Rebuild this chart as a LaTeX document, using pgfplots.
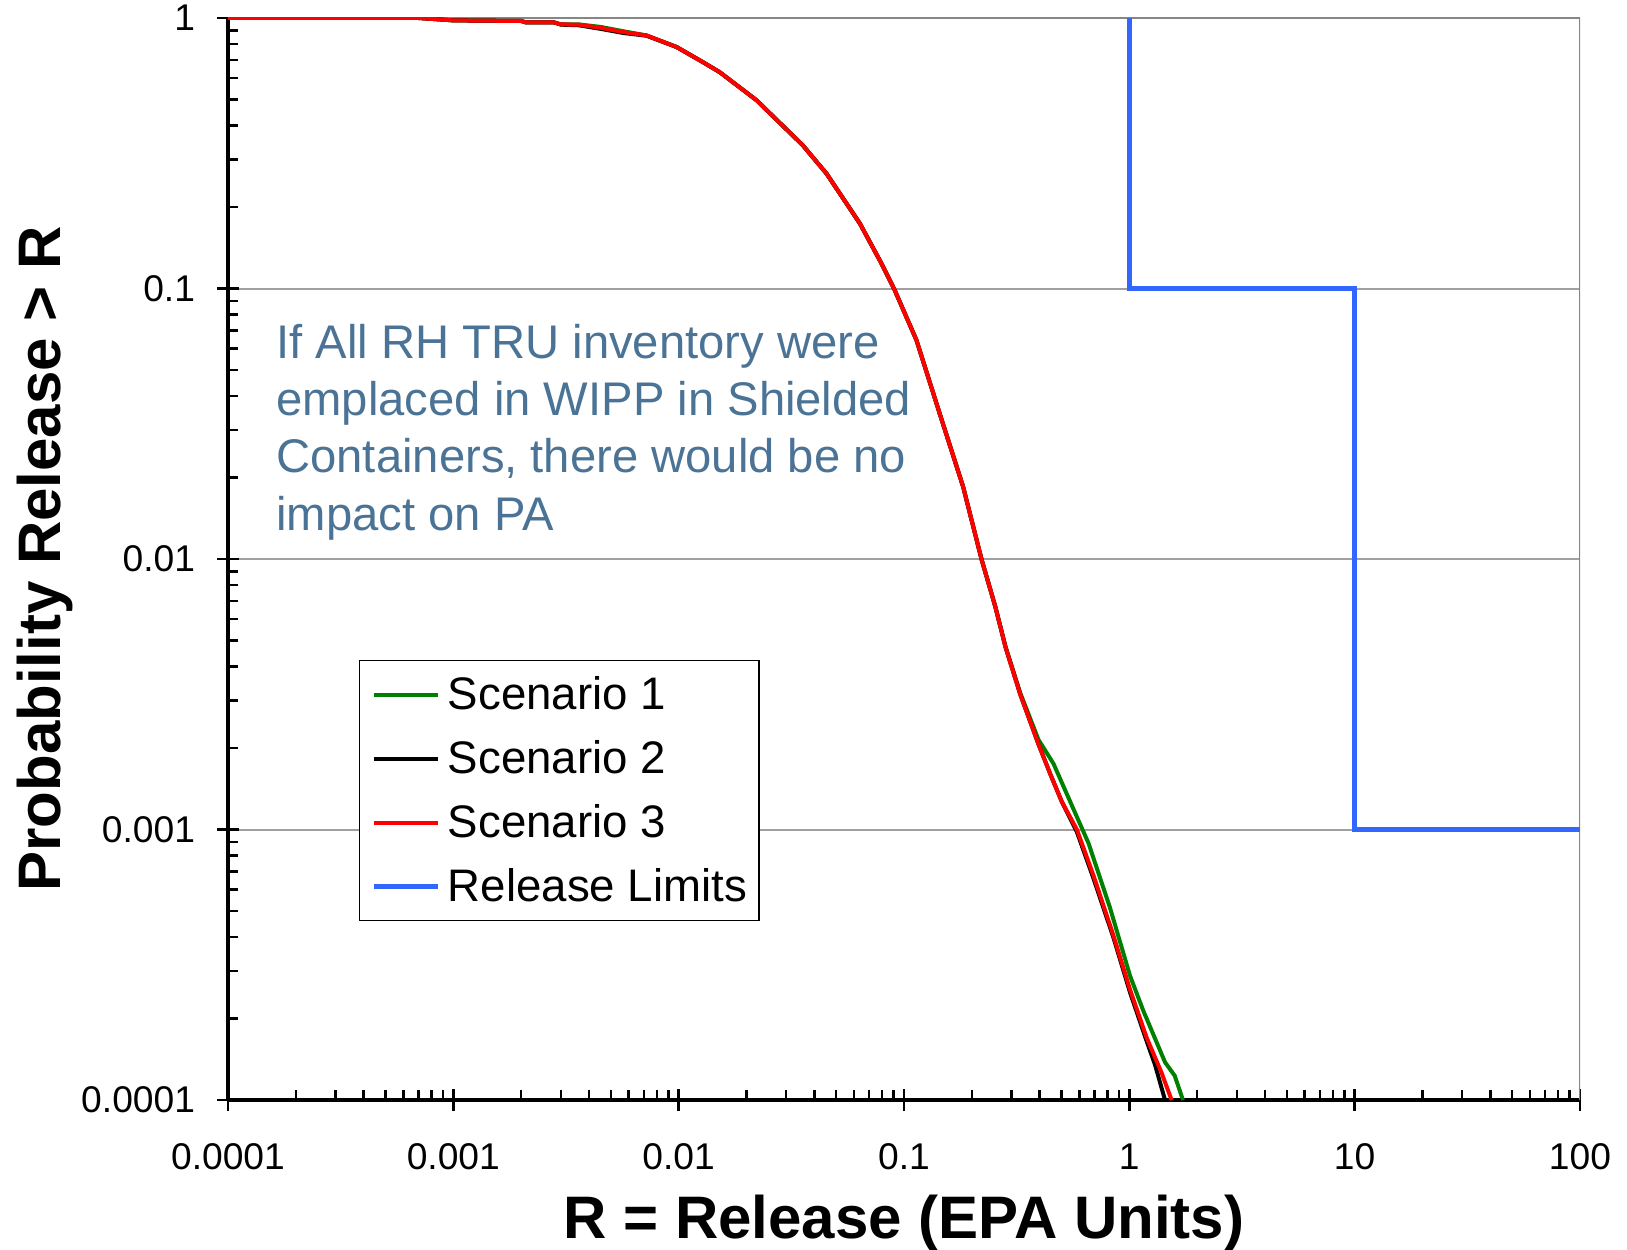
\documentclass[border=0pt]{standalone}
\usepackage{fontspec}
\setmainfont{Liberation Sans}
\usepackage{pgfplots}
\pgfplotsset{compat=1.18}
\definecolor{scone}{RGB}{0,128,0}
\definecolor{limblue}{RGB}{51,102,255}
\definecolor{notecol}{RGB}{74,115,150}
\definecolor{gridcol}{RGB}{160,160,160}
\definecolor{framecol}{RGB}{134,134,134}
\begin{document}
\begin{tikzpicture}
\begin{loglogaxis}[
  name=ax, at={(0,0)}, anchor=south west,
  width=676pt, height=541pt, scale only axis,
  xmin=1e-4, xmax=100, ymin=1e-4, ymax=1,
  axis lines*=left,
  axis line style={-, black, line width=2.25pt},
  xtick={1e-4,1e-3,1e-2,1e-1,1,10,100},
  xticklabels={0.0001,0.001,0.01,0.1,1,10,100},
  ytick={1e-4,1e-3,1e-2,1e-1,1},
  yticklabels={0.0001,0.001,0.01,0.1,1},
  tick align=center,
  major tick length=11pt,
  minor tick length=5pt,
  every tick/.style={black, line width=1.25pt},
  minor x tick style={yshift=2.5pt},
  minor y tick style={xshift=2.5pt},
  ymajorgrids,
  major grid style={gridcol, line width=1pt},
  tick label style={font=\fontsize{18.6}{22}\selectfont},
  xticklabel style={anchor=base, inner sep=0pt, yshift=-29pt},
  yticklabel style={anchor=east, inner sep=0pt, xshift=-10.8pt},
  xlabel={R = Release (EPA Units)},
  ylabel={Probability Release > R},
  xlabel style={at={(axis description cs:0.5,-0.1139)}, anchor=center, font=\bfseries\fontsize{30}{36}\selectfont},
  ylabel style={at={(axis description cs:-0.1357,0.5)}, anchor=center, font=\bfseries\fontsize{30}{36}\selectfont},
  legend cell align=left,
  legend style={at={(axis description cs:0.0969,0.4067)}, anchor=north west,
    draw=black, line width=0.75pt, fill=white,
    font=\fontsize{22.8}{27}\selectfont,
    inner xsep=6pt, inner ysep=1pt, row sep=0pt, column sep=3.5pt,
    nodes={inner sep=0pt, minimum height=32pt}},
  legend image code/.code={\draw[#1] (0pt,0pt) -- (32pt,0pt);},
]
\draw[framecol, line width=1.5pt] (rel axis cs:0,1) -- (rel axis cs:1,1) -- (rel axis cs:1,0);

\addplot[scone, line width=2pt] coordinates {
(0.0001,1) (0.0007,1) (0.001,0.98) (0.002,0.975) (0.0021,0.963) (0.0028,0.963)
(0.003,0.947) (0.0036,0.947) (0.0045,0.927) (0.0057,0.893) (0.0072,0.862)
(0.0098,0.781) (0.0128,0.687) (0.0152,0.631) (0.0222,0.496) (0.0356,0.338)
(0.0453,0.266) (0.0637,0.174) (0.0795,0.1236) (0.091,0.0985) (0.1136,0.0644)
(0.144,0.0345) (0.183,0.0185) (0.2207,0.01) (0.2546,0.00664) (0.282,0.00475)
(0.328,0.0032) (0.395,0.00215) (0.461,0.00175) (0.565,0.00119) (0.659,0.00089)
(0.82,0.000515) (1.007,0.000288) (1.153,0.000214) (1.44,0.000138) (1.59,0.000123)
(1.73,0.0001)};
\addlegendentry{Scenario 1}

\addplot[black, line width=2pt] coordinates {
(0.0001,1) (0.0007,1) (0.001,0.98) (0.002,0.975) (0.0021,0.963) (0.0028,0.963)
(0.003,0.945) (0.0036,0.94) (0.0045,0.912) (0.0057,0.88) (0.0072,0.86)
(0.0098,0.781) (0.0128,0.687) (0.0152,0.631) (0.0222,0.496) (0.0356,0.338)
(0.0453,0.266) (0.0637,0.174) (0.0795,0.1236) (0.091,0.0985) (0.1136,0.0644)
(0.144,0.0345) (0.183,0.0185) (0.2207,0.01) (0.2546,0.00664) (0.282,0.00473)
(0.328,0.00316) (0.395,0.00207) (0.445,0.00161) (0.501,0.00127) (0.585,0.00098)
(0.693,0.00066) (0.849,0.0004) (1.007,0.00025) (1.194,0.000165) (1.3,0.000135)
(1.44,0.0001)};
\addlegendentry{Scenario 2}

\addplot[red, line width=2pt] coordinates {
(0.0001,1) (0.0007,1) (0.001,0.98) (0.002,0.975) (0.0021,0.963) (0.0028,0.963)
(0.003,0.947) (0.0036,0.945) (0.0045,0.92) (0.0057,0.887) (0.0072,0.862)
(0.0098,0.781) (0.0128,0.687) (0.0152,0.631) (0.0222,0.496) (0.0356,0.338)
(0.0453,0.266) (0.0637,0.174) (0.0795,0.1236) (0.091,0.0985) (0.1136,0.0644)
(0.144,0.0345) (0.183,0.0185) (0.2207,0.01) (0.2546,0.00664) (0.282,0.00473)
(0.328,0.00316) (0.395,0.00207) (0.445,0.00161) (0.501,0.00127) (0.585,0.001)
(0.693,0.000677) (0.849,0.000407) (1.007,0.000256) (1.194,0.00017) (1.391,0.000126)
(1.54,0.0001)};
\addlegendentry{Scenario 3}

\addplot[limblue, line width=2.6pt] coordinates {
(1,1) (1,0.1) (10,0.1) (10,0.001) (100,0.001)};
\addlegendentry{Release Limits}
\end{loglogaxis}

\begin{scope}[every node/.style={anchor=base west, inner sep=0pt, text=notecol, font=\fontsize{23.6}{28.5}\selectfont}]
\node at ([shift={(24pt,370.5pt)}]ax.south west) {If All RH TRU inventory were};
\node at ([shift={(24pt,342pt)}]ax.south west) {emplaced in WIPP in Shielded};
\node at ([shift={(24pt,313.5pt)}]ax.south west) {Containers, there would be no};
\node at ([shift={(24pt,285pt)}]ax.south west) {impact on PA};
\end{scope}

\pgfresetboundingbox
\useasboundingbox ([shift={(-114pt,-74.5pt)}]ax.south west) rectangle ([shift={(23.5pt,9pt)}]ax.north east);
\end{tikzpicture}
\end{document}
